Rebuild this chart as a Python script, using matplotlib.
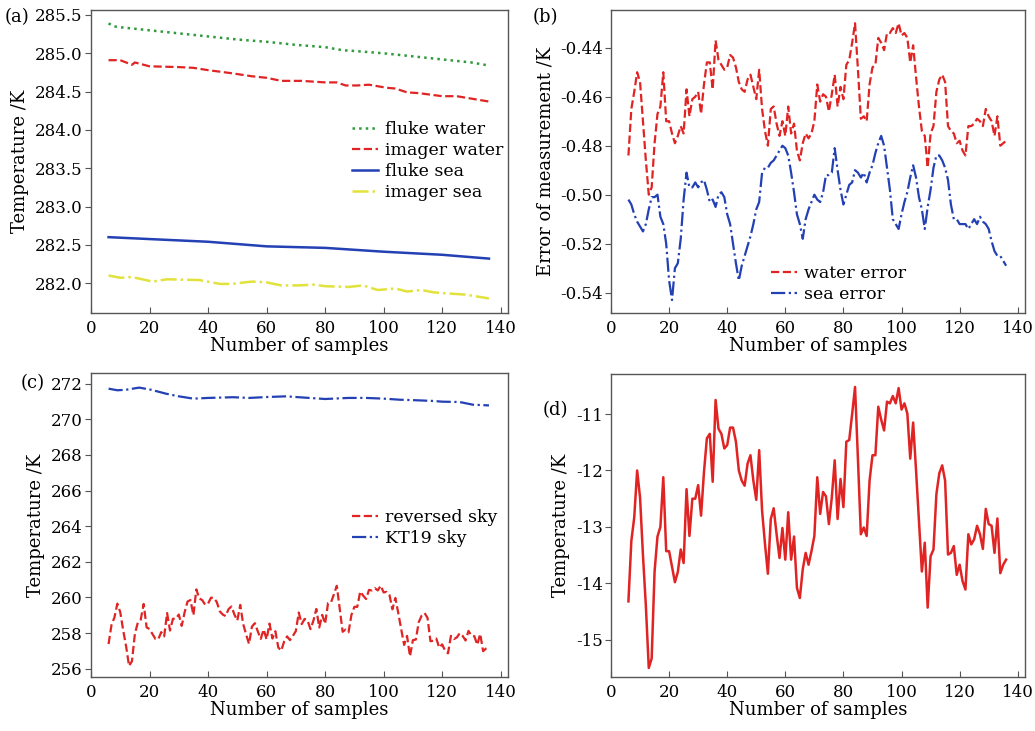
import matplotlib
matplotlib.use('Agg')
import matplotlib.pyplot as plt
import numpy as np

plt.rcParams['font.family'] = ['DejaVu Serif']
plt.rcParams['font.size'] = 12
plt.rcParams['axes.unicode_minus'] = False

# samples shared by the noisy series (b), (c), (d)
samples = list(range(6, 137))

# (a) temperatures, read at a few sample positions
fluke_water_x = [6, 8, 10, 20, 30, 40, 50, 60, 70, 80, 86, 90, 100, 110, 120, 130, 136]
fluke_water = [285.39, 285.35, 285.34, 285.30, 285.26, 285.22, 285.18, 285.15, 285.11,
               285.08, 285.04, 285.03, 285.00, 284.96, 284.92, 284.88, 284.84]
imager_water_x = [6, 10, 14, 15, 20, 30, 35, 40, 48, 55, 60, 65, 72, 80, 84, 87, 91, 95,
                  101, 104, 108, 112, 120, 125, 136]
imager_water = [284.91, 284.91, 284.85, 284.88, 284.83, 284.82, 284.81, 284.78, 284.74,
                284.70, 284.68, 284.64, 284.64, 284.62, 284.62, 284.58, 284.58, 284.59,
                284.55, 284.54, 284.49, 284.48, 284.44, 284.44, 284.37]
fluke_sea_x = [6, 20, 40, 60, 80, 100, 120, 136]
fluke_sea = [282.60, 282.575, 282.54, 282.48, 282.46, 282.41, 282.37, 282.32]
imager_sea_x = [6, 10, 14, 21, 26, 37, 44, 48, 55, 60, 65, 71, 76, 80, 88, 93, 98, 104,
                108, 113, 117, 120, 128, 136]
imager_sea = [282.10, 282.07, 282.08, 282.02, 282.05, 282.04, 281.99, 281.99, 282.02,
              282.01, 281.97, 281.97, 281.98, 281.96, 281.95, 281.97, 281.91, 281.93,
              281.89, 281.91, 281.88, 281.87, 281.85, 281.80]

# (b) errors of measurement
water_error = [
    -0.484, -0.465, -0.458, -0.450,                                          # 6-9
    -0.454, -0.470, -0.486, -0.500, -0.497, -0.479, -0.467, -0.464, -0.450, -0.470,  # 10-19
    -0.470, -0.475, -0.479, -0.476, -0.472, -0.475, -0.457, -0.468, -0.461, -0.460,  # 20-29
    -0.458, -0.467, -0.455, -0.446, -0.446, -0.457, -0.437, -0.445, -0.447, -0.449,  # 30-39
    -0.448, -0.443, -0.444, -0.448, -0.454, -0.457, -0.458, -0.453, -0.451, -0.456,  # 40-49
    -0.461, -0.449, -0.465, -0.474, -0.480, -0.465, -0.464, -0.471, -0.476, -0.470,  # 50-59
    -0.476, -0.464, -0.475, -0.471, -0.482, -0.486, -0.479, -0.475, -0.477, -0.475,  # 60-69
    -0.470, -0.455, -0.462, -0.459, -0.460, -0.466, -0.459, -0.451, -0.464, -0.456,  # 70-79
    -0.461, -0.447, -0.445, -0.438, -0.430, -0.449, -0.469, -0.468, -0.470, -0.455,  # 80-89
    -0.448, -0.447, -0.436, -0.438, -0.441, -0.434, -0.434, -0.432, -0.434, -0.430,  # 90-99
    -0.435, -0.434, -0.436, -0.446, -0.439, -0.452, -0.464, -0.474, -0.476, -0.489,  # 100-109
    -0.475, -0.472, -0.458, -0.453, -0.451, -0.454, -0.472, -0.474, -0.475, -0.479,  # 110-119
    -0.478, -0.482, -0.484, -0.472, -0.472, -0.471, -0.469, -0.470, -0.472, -0.465,  # 120-129
    -0.468, -0.470, -0.476, -0.468, -0.480, -0.479, -0.478,                          # 130-136
]
sea_error = [
    -0.502, -0.504, -0.508, -0.511,
    -0.513, -0.515, -0.512, -0.506, -0.501, -0.501, -0.500, -0.509, -0.512, -0.520,
    -0.535, -0.543, -0.530, -0.528, -0.518, -0.502, -0.491, -0.497, -0.497, -0.495,
    -0.497, -0.495, -0.494, -0.498, -0.503, -0.502, -0.505, -0.500, -0.499, -0.501,
    -0.508, -0.512, -0.520, -0.528, -0.535, -0.529, -0.525, -0.521, -0.517, -0.512,
    -0.506, -0.503, -0.491, -0.489, -0.489, -0.487, -0.486, -0.484, -0.482, -0.480,
    -0.481, -0.484, -0.491, -0.499, -0.508, -0.512, -0.518, -0.510, -0.506, -0.503,
    -0.500, -0.502, -0.503, -0.499, -0.492, -0.492, -0.491, -0.481, -0.490, -0.498,
    -0.504, -0.500, -0.496, -0.495, -0.490, -0.491, -0.493, -0.491, -0.495, -0.491,
    -0.488, -0.483, -0.479, -0.476, -0.480, -0.489, -0.498, -0.510, -0.512, -0.514,
    -0.508, -0.503, -0.499, -0.493, -0.488, -0.493, -0.501, -0.506, -0.514, -0.505,
    -0.498, -0.489, -0.484, -0.484, -0.486, -0.489, -0.494, -0.504, -0.510, -0.510,
    -0.512, -0.512, -0.512, -0.514, -0.512, -0.510, -0.512, -0.509, -0.511, -0.512,
    -0.514, -0.519, -0.523, -0.525, -0.525, -0.527, -0.529,
]

# (c) sky temperatures
kt19_x = [6, 9, 12, 16.5, 20.5, 25.6, 30, 35, 40, 48.5, 54, 60, 66.7, 71, 80, 88, 94,
          100, 105.5, 111, 117, 120, 126, 130.5, 136]
kt19_sky = [271.72, 271.63, 271.66, 271.78, 271.66, 271.44, 271.29, 271.16, 271.20,
            271.24, 271.20, 271.25, 271.29, 271.24, 271.14, 271.20, 271.20, 271.16,
            271.10, 271.07, 271.03, 270.99, 270.97, 270.82, 270.78]
reversed_sky = [
    257.38, 258.45, 258.87, 259.65,
    259.17, 258.15, 257.25, 256.15, 256.42, 257.96, 258.58, 258.75, 259.63, 258.32,
    258.22, 257.95, 257.67, 257.65, 258.05, 257.81, 259.12, 258.14, 258.80, 258.80,
    259.04, 258.40, 259.17, 259.77, 259.85, 259.00, 260.45, 259.94, 259.85, 259.59,
    259.65, 259.98, 259.98, 259.73, 259.22, 259.04, 258.95, 259.34, 259.49, 259.04,
    258.70, 259.58, 258.51, 257.92, 257.39, 258.36, 258.55, 258.09, 257.67, 258.20,
    257.64, 258.53, 257.69, 258.10, 257.19, 257.01, 257.52, 257.81, 257.60, 257.84,
    258.11, 259.15, 258.50, 258.79, 258.71, 258.22, 258.69, 259.35, 258.31, 259.02,
    258.52, 259.68, 259.71, 260.17, 260.65, 259.37, 258.07, 258.19, 258.04, 259.02,
    259.47, 259.47, 260.33, 260.10, 259.91, 260.42, 260.39, 260.52, 260.39, 260.66,
    260.28, 260.31, 260.13, 259.33, 259.97, 259.12, 258.22, 257.33, 257.84, 256.69,
    257.60, 257.63, 258.61, 258.98, 259.12, 258.85, 257.54, 257.57, 257.69, 257.18,
    257.36, 257.01, 256.86, 257.84, 257.66, 257.75, 257.99, 257.84, 257.58, 258.12,
    257.85, 257.82, 257.34, 257.95, 256.98, 257.13, 257.22,
]

# (d) reversed sky minus KT19 sky
sky_diff = [
    -14.32, -13.25, -12.83, -12.00,
    -12.48, -13.50, -14.40, -15.50, -15.33, -13.79, -13.17, -13.00, -12.12, -13.43,
    -13.43, -13.70, -13.98, -13.80, -13.40, -13.64, -12.33, -13.16, -12.50, -12.50,
    -12.26, -12.80, -12.03, -11.43, -11.35, -12.20, -10.75, -11.26, -11.35, -11.61,
    -11.55, -11.24, -11.24, -11.49, -12.00, -12.18, -12.27, -11.88, -11.73, -12.18,
    -12.52, -11.64, -12.71, -13.30, -13.83, -12.86, -12.67, -13.13, -13.55, -13.02,
    -13.58, -12.74, -13.58, -13.17, -14.08, -14.26, -13.75, -13.46, -13.67, -13.43,
    -13.16, -12.12, -12.77, -12.38, -12.46, -12.95, -12.48, -11.82, -12.86, -12.15,
    -12.65, -11.49, -11.46, -11.00, -10.52, -11.80, -13.13, -13.01, -13.16, -12.18,
    -11.73, -11.73, -10.87, -11.10, -11.29, -10.78, -10.81, -10.68, -10.81, -10.54,
    -10.92, -10.81, -10.99, -11.79, -11.15, -12.00, -12.90, -13.79, -13.28, -14.43,
    -13.52, -13.40, -12.42, -12.05, -11.91, -12.18, -13.49, -13.46, -13.34, -13.85,
    -13.67, -13.96, -14.11, -13.13, -13.31, -13.22, -12.98, -13.13, -13.39, -12.68,
    -12.95, -12.98, -13.46, -12.85, -13.82, -13.67, -13.58,
]

GREEN = '#2f9a3c'
RED = '#e02424'
BLUE = '#2340b4'
YELLOW = '#e2e23c'
W, H = 1035, 731

fig = plt.figure(figsize=(W / 100, H / 100), dpi=100)


def make_axes(x0, x1, y0, y1):
    ax = fig.add_axes([x0 / W, 1 - y1 / H, (x1 - x0) / W, (y1 - y0) / H])
    for s in ax.spines.values():
        s.set_color('#555555')
        s.set_linewidth(1.0)
    ax.tick_params(axis='x', direction='in', length=4, color='#555555', pad=5)
    ax.tick_params(axis='y', direction='out', length=4, color='#555555', pad=2)
    ax.set_xlim(0, 142.5)
    ax.set_xticks(range(0, 141, 20))
    ax.set_xlabel('Number of samples', labelpad=0, fontsize=13)
    return ax


def add_legend(ax, anchor):
    ax.legend(loc='upper left', bbox_to_anchor=anchor, frameon=False, fontsize=12.5,
              handlelength=1.5, handletextpad=0.4, labelspacing=0.22, borderaxespad=0)


# (a)
ax = make_axes(91, 508, 10, 313)
ax.plot(fluke_water_x, fluke_water, ':', color=GREEN, lw=1.8, label='fluke water')
ax.plot(imager_water_x, imager_water, '--', color=RED, lw=1.6, label='imager water')
ax.plot(fluke_sea_x, fluke_sea, '-', color=BLUE, lw=1.8, label='fluke sea')
ax.plot(imager_sea_x, imager_sea, '-.', color=YELLOW, lw=1.8, label='imager sea')
ax.set_ylim(281.61, 285.565)
ax.set_yticks(np.arange(282.0, 285.51, 0.5))
ax.yaxis.set_major_formatter(matplotlib.ticker.FormatStrFormatter('%.1f'))
ax.set_ylabel('Temperature /K', labelpad=4, fontsize=13)
add_legend(ax, (0.61, 0.655))

# (b)
ax = make_axes(611, 1025, 10, 313)
ax.plot(samples, water_error, '--', color=RED, lw=1.6, label='water error')
ax.plot(samples, sea_error, '-.', color=BLUE, lw=1.6, label='sea error')
ax.set_ylim(-0.5483, -0.4246)
ax.set_yticks([-0.44, -0.46, -0.48, -0.50, -0.52, -0.54])
ax.yaxis.set_major_formatter(matplotlib.ticker.FormatStrFormatter('%.2f'))
ax.set_ylabel('Error of measurement /K', labelpad=4, fontsize=13)
add_legend(ax, (0.37, 0.18))

# (c)
ax = make_axes(91, 508, 373, 677)
ax.plot(samples, reversed_sky, '--', color=RED, lw=1.6, label='reversed sky')
ax.plot(kt19_x, kt19_sky, '-.', color=BLUE, lw=1.6, label='KT19 sky')
ax.set_ylim(255.53, 272.6)
ax.set_yticks(range(256, 273, 2))
ax.set_ylabel('Temperature /K', labelpad=4, fontsize=13)
add_legend(ax, (0.61, 0.575))

# (d)
ax = make_axes(611, 1025, 374, 677)
ax.plot(samples, sky_diff, '-', color=RED, lw=1.8)
ax.set_ylim(-15.66, -10.29)
ax.set_yticks([-11, -12, -13, -14, -15])
ax.set_ylabel('Temperature /K', labelpad=4, fontsize=13)

for txt, x, y in [('(a)', 17, 17), ('(b)', 545, 17), ('(c)', 33, 383), ('(d)', 555, 410)]:
    fig.text(x / W, 1 - y / H, txt, ha='center', va='center', fontsize=13)

fig.savefig('out.png', dpi=100)
